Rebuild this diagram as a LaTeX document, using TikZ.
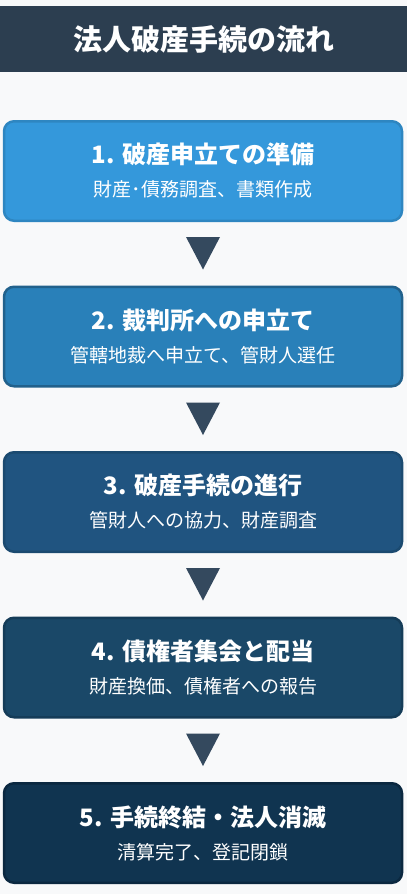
\documentclass[tikz,border=0pt]{standalone}
\usepackage{fontspec}
\setmainfont{Noto Sans CJK JP}
\usepackage{tikz}
\usetikzlibrary{positioning}
\definecolor{pagebg}{HTML}{F8F9FA}
\definecolor{headbg}{HTML}{2C3E50}
\definecolor{tipcol}{HTML}{34495E}
\definecolor{boxA}{HTML}{3498DB}\definecolor{lineA}{HTML}{2E86C1}
\definecolor{boxB}{HTML}{2980B9}\definecolor{lineB}{HTML}{21618C}
\definecolor{boxC}{HTML}{205480}\definecolor{lineC}{HTML}{1B4A70}
\definecolor{boxD}{HTML}{1A4868}\definecolor{lineD}{HTML}{153C58}
\definecolor{boxE}{HTML}{103450}\definecolor{lineE}{HTML}{0B2840}
\newcommand\steptitle[1]{{\fontsize{24}{33}\bfseries #1}}
\newcommand\stepnote[1]{{\fontsize{19}{33}\selectfont #1}}
\tikzstyle{headbar}=[fill=headbg,text=white,minimum width=407pt,minimum height=66pt,inner sep=0pt,font=\fontsize{29}{34}\bfseries]
\tikzstyle{stepbox}=[rounded corners=10pt,line width=2.5pt,minimum width=398pt,minimum height=99.5pt,inner sep=0pt,text=white,align=center,font=\fontsize{19}{33}\selectfont]
\tikzstyle{downtip}=[fill=tipcol]
\begin{document}
\begin{tikzpicture}[x=1pt,y=-1pt,node distance=63.5pt]
	\fill[pagebg] (0,0) rectangle (407,894);
	\node[headbar] (head) at (203.5,39) {法人破産手続の流れ};
	\node[stepbox,fill=boxA,draw=lineA] (b1) at (203,171)
		{\steptitle{1. 破産申立ての準備}\\\stepnote{財産･債務調査、書類作成}};
	\node[stepbox,fill=boxB,draw=lineB,below=of b1] (b2)
		{\steptitle{2. 裁判所への申立て}\\\stepnote{管轄地裁へ申立て、管財人選任}};
	\node[stepbox,fill=boxC,draw=lineC,below=of b2] (b3)
		{\steptitle{3. 破産手続の進行}\\\stepnote{管財人への協力、財産調査}};
	\node[stepbox,fill=boxD,draw=lineD,below=of b3] (b4)
		{\steptitle{4. 債権者集会と配当}\\\stepnote{財産換価、債権者への報告}};
	\node[stepbox,fill=boxE,draw=lineE,below=of b4] (b5)
		{\steptitle{5. 手続終結・法人消滅}\\\stepnote{清算完了、登記閉鎖}};
	% down triangles between the steps
	\fill[downtip] ([xshift=-17pt,yshift=-15pt]b1.south) -- ([xshift=17pt,yshift=-15pt]b1.south) -- ([yshift=16pt]b2.north) -- cycle;
	\fill[downtip] ([xshift=-17pt,yshift=-15pt]b2.south) -- ([xshift=17pt,yshift=-15pt]b2.south) -- ([yshift=16pt]b3.north) -- cycle;
	\fill[downtip] ([xshift=-17pt,yshift=-15pt]b3.south) -- ([xshift=17pt,yshift=-15pt]b3.south) -- ([yshift=16pt]b4.north) -- cycle;
	\fill[downtip] ([xshift=-17pt,yshift=-15pt]b4.south) -- ([xshift=17pt,yshift=-15pt]b4.south) -- ([yshift=16pt]b5.north) -- cycle;
\end{tikzpicture}
\end{document}
